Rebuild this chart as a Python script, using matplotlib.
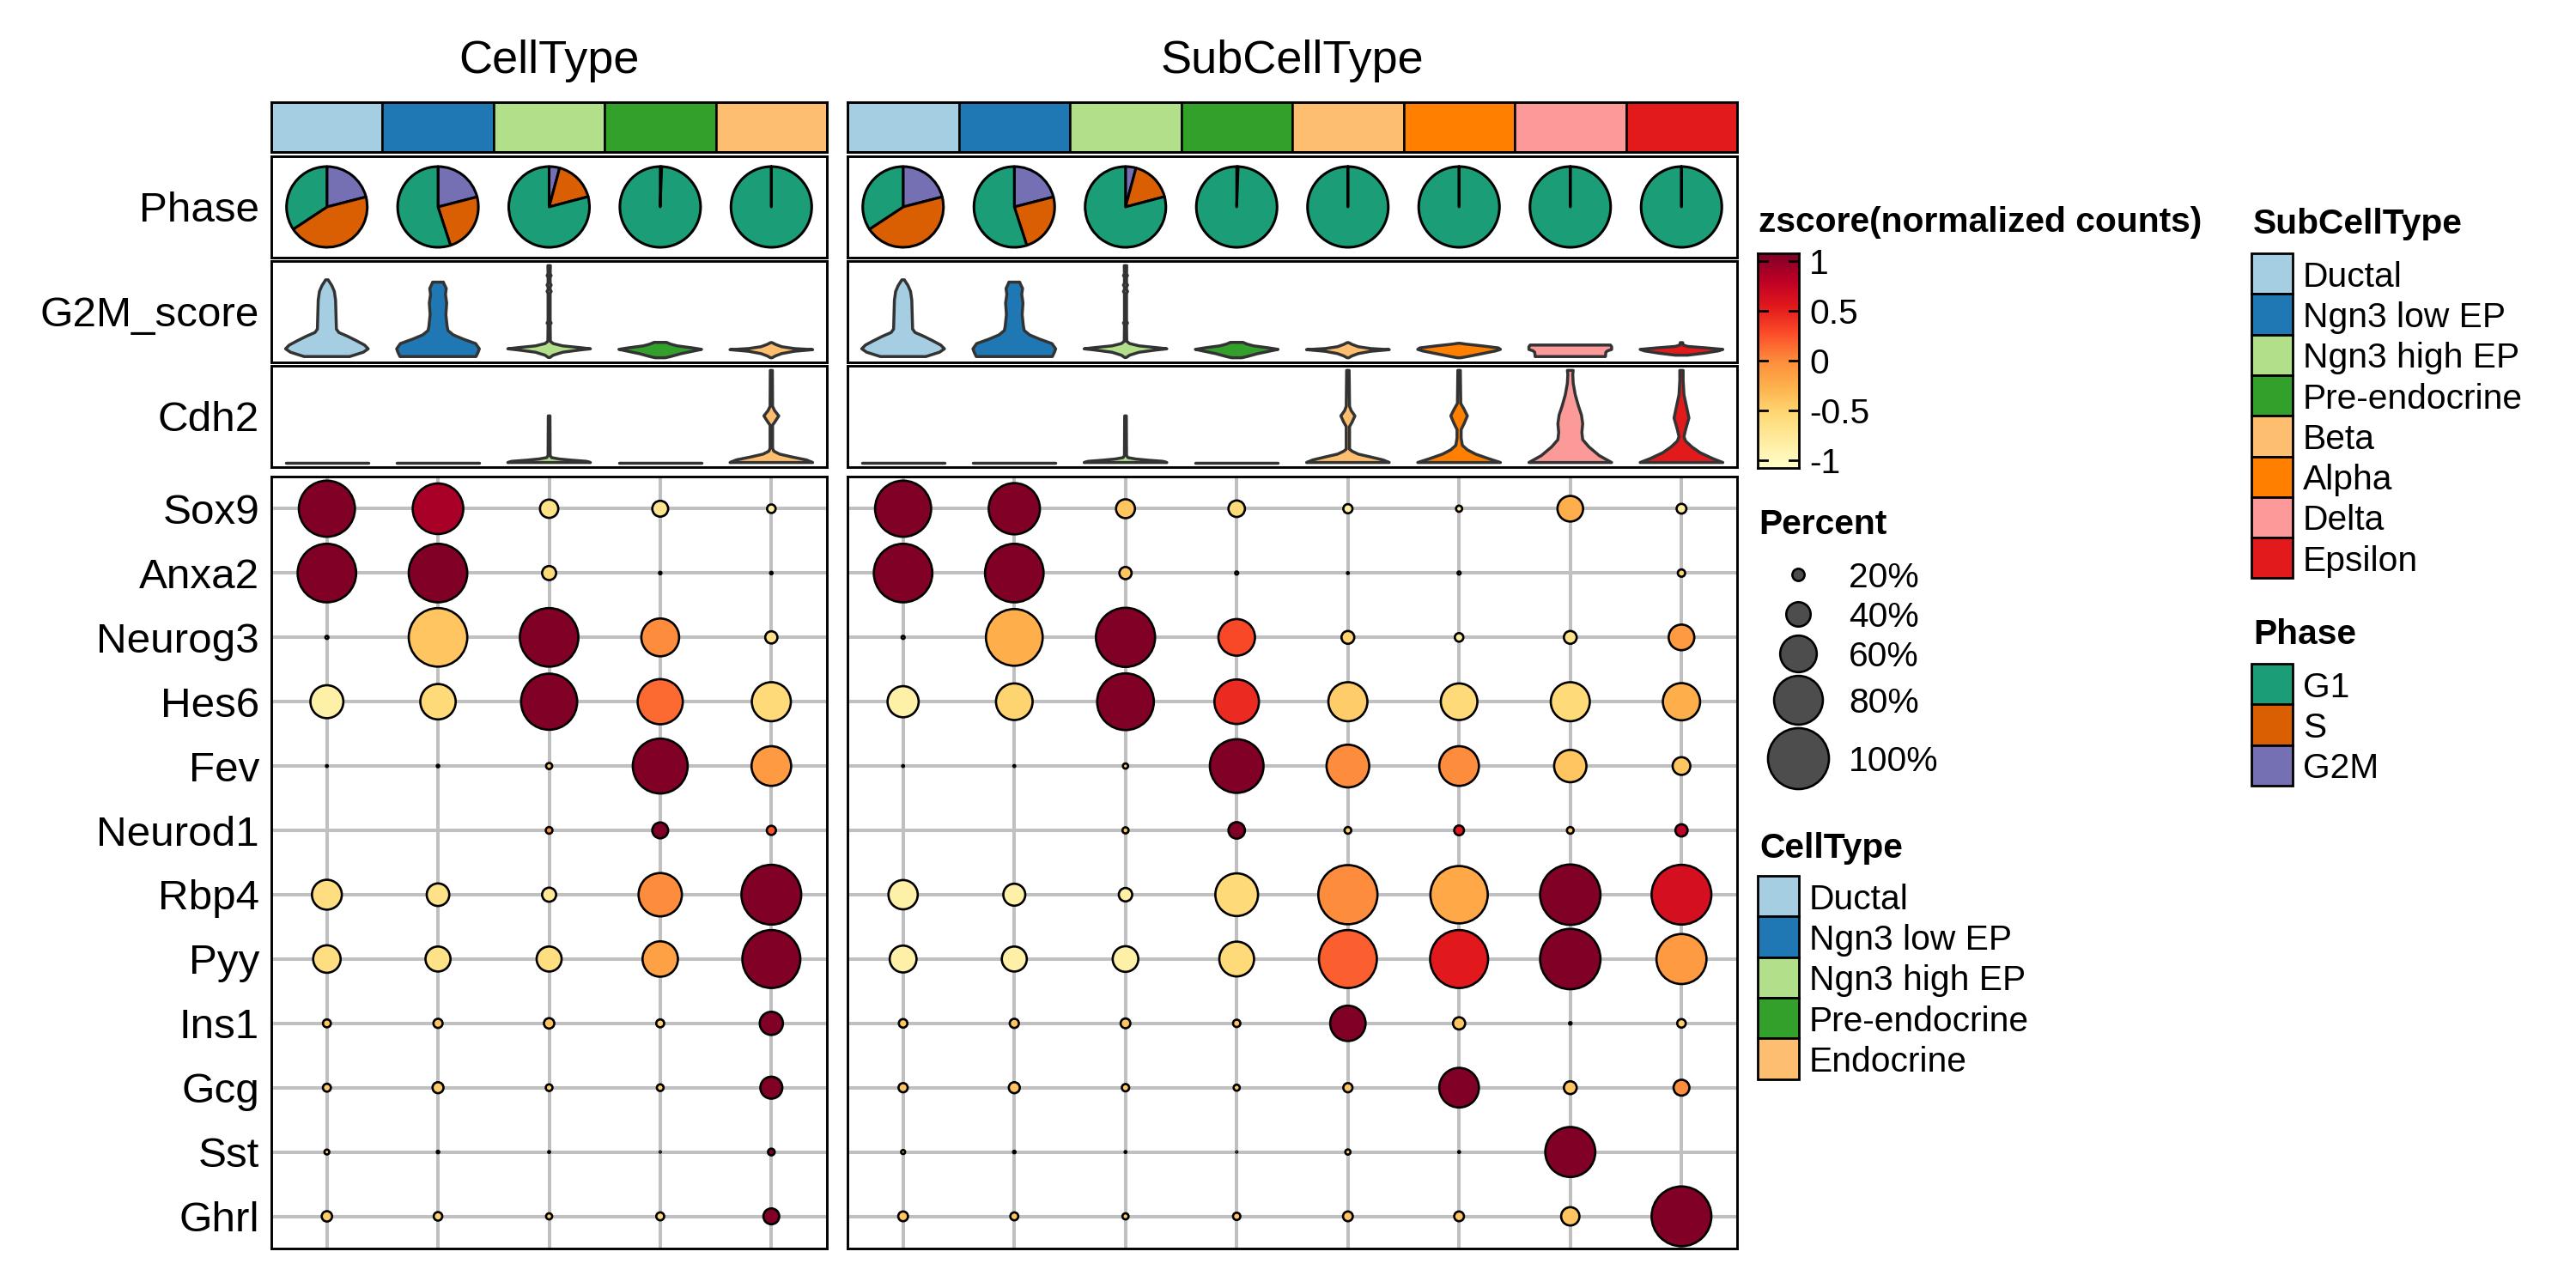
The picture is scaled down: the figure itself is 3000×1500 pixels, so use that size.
import numpy as np
import matplotlib
matplotlib.use("Agg")
import matplotlib.pyplot as plt
from matplotlib.patches import Wedge, Rectangle, Polygon
from matplotlib.colors import Normalize

plt.rcParams['font.family'] = ['Liberation Sans', 'DejaVu Sans']

# ---------------- data ----------------
celltypes = ["Ductal", "Ngn3 low EP", "Ngn3 high EP", "Pre-endocrine", "Endocrine"]
subcelltypes = ["Ductal", "Ngn3 low EP", "Ngn3 high EP", "Pre-endocrine",
                "Beta", "Alpha", "Delta", "Epsilon"]
celltype_colors = ["#A6CEE3", "#1F78B4", "#B2DF8A", "#33A02C", "#FDBF6F"]
subcelltype_colors = ["#A6CEE3", "#1F78B4", "#B2DF8A", "#33A02C",
                      "#FDBF6F", "#FF7F00", "#FB9A99", "#E31A1C"]
phases = ["G1", "S", "G2M"]
phase_colors = ["#1B9E77", "#D95F02", "#7570B3"]
genes = ["Sox9", "Anxa2", "Neurog3", "Hes6", "Fev", "Neurod1",
         "Rbp4", "Pyy", "Ins1", "Gcg", "Sst", "Ghrl"]
row_features = ["Phase", "G2M_score", "Cdh2"]

# phase fractions (G1, S, G2M)
phase_frac = {
    "Ductal":        [0.343, 0.447, 0.210],
    "Ngn3 low EP":   [0.550, 0.240, 0.210],
    "Ngn3 high EP":  [0.791, 0.167, 0.042],
    "Pre-endocrine": [0.994, 0.004, 0.002],
    "Endocrine":     [1.0, 0.0, 0.0],
    "Beta":          [1.0, 0.0, 0.0],
    "Alpha":         [1.0, 0.0, 0.0],
    "Delta":         [1.0, 0.0, 0.0],
    "Epsilon":       [1.0, 0.0, 0.0],
}

# violin outlines: height (0..1 of feature range) and relative half-width
g2m_y = {
    "Ductal": [0.013, 0.06, 0.097, 0.138, 0.186, 0.233, 0.274, 0.311, 0.469, 0.626, 0.72, 0.783, 0.846],
    "Ngn3 low EP": [0.013, 0.06, 0.097, 0.154, 0.201, 0.248, 0.296, 0.343, 0.469, 0.594, 0.689, 0.752, 0.799, 0.821],
    "Ngn3 high EP": [0.003, 0.028, 0.06, 0.085, 0.097, 0.11, 0.129, 0.154, 0.179, 0.36, 0.377, 0.39,
                     0.70, 0.72, 0.74, 0.77, 0.789, 0.81, 0.88, 0.893, 0.905, 1.0],
    "Pre-endocrine": [0.0, 0.013, 0.044, 0.075, 0.091, 0.107, 0.129, 0.148, 0.167],
    "Endocrine": [0.0, 0.02, 0.045, 0.07, 0.088, 0.1, 0.12, 0.145, 0.164],
    "Beta": [0.0, 0.02, 0.045, 0.07, 0.088, 0.1, 0.12, 0.145, 0.164],
    "Alpha": [0.0, 0.013, 0.044, 0.075, 0.091, 0.107, 0.129, 0.148, 0.157],
    "Delta": [0.013, 0.06, 0.075, 0.09, 0.12, 0.138],
    "Epsilon": [0.028, 0.05, 0.075, 0.091, 0.107, 0.123, 0.138, 0.164],
}
g2m_w = {
    "Ductal": [0.55, 0.88, 1.0, 0.91, 0.71, 0.50, 0.29, 0.23, 0.22, 0.21, 0.18, 0.12, 0.03],
    "Ngn3 low EP": [0.92, 0.97, 1.0, 0.91, 0.62, 0.37, 0.24, 0.22, 0.19, 0.21, 0.18, 0.2, 0.15, 0.13],
    "Ngn3 high EP": [0.02, 0.1, 0.33, 0.75, 1.0, 0.75, 0.33, 0.1, 0.03, 0.025, 0.05, 0.025,
                     0.025, 0.05, 0.025, 0.025, 0.05, 0.025, 0.025, 0.05, 0.025, 0.03],
    "Pre-endocrine": [0.12, 0.25, 0.5, 0.83, 1.0, 0.78, 0.41, 0.25, 0.15],
    "Endocrine": [0.02, 0.1, 0.25, 0.55, 1.0, 0.55, 0.25, 0.1, 0.02],
    "Beta": [0.02, 0.1, 0.25, 0.55, 1.0, 0.55, 0.25, 0.1, 0.02],
    "Alpha": [0.04, 0.2, 0.55, 0.89, 1.0, 0.95, 0.55, 0.16, 0.03],
    "Delta": [0.85, 0.86, 0.9, 1.0, 1.0, 0.97],
    "Epsilon": [0.15, 0.55, 0.9, 1.0, 0.6, 0.15, 0.04, 0.03],
}
cdh2_y = {
    "Ductal": [0.0, 0.0],
    "Ngn3 low EP": [0.0, 0.0],
    "Ngn3 high EP": [0.0, 0.013, 0.025, 0.038, 0.053, 0.075, 0.506],
    "Pre-endocrine": [0.0, 0.0],
    "Endocrine": [0.0, 0.028, 0.06, 0.091, 0.123, 0.154, 0.406, 0.437, 0.506, 0.563, 0.61, 1.0],
    "Beta": [0.0, 0.028, 0.06, 0.091, 0.123, 0.145, 0.39, 0.437, 0.506, 0.563, 0.61, 1.0],
    "Alpha": [0.0, 0.044, 0.091, 0.138, 0.186, 0.264, 0.358, 0.421, 0.506, 0.579, 0.642, 1.0],
    "Delta": [0.0, 0.075, 0.17, 0.248, 0.327, 0.421, 0.516, 0.61, 0.736, 0.862, 0.956, 1.0],
    "Epsilon": [0.0, 0.044, 0.107, 0.17, 0.233, 0.28, 0.358, 0.484, 0.61, 0.736, 0.893, 1.0],
}
cdh2_w = {
    "Ductal": [1.0, 1.0],
    "Ngn3 low EP": [1.0, 1.0],
    "Ngn3 high EP": [1.0, 0.9, 0.55, 0.25, 0.06, 0.025, 0.02],
    "Pre-endocrine": [1.0, 1.0],
    "Endocrine": [1.0, 0.85, 0.5, 0.2, 0.06, 0.03, 0.03, 0.08, 0.18, 0.08, 0.03, 0.025],
    "Beta": [1.0, 0.85, 0.55, 0.25, 0.1, 0.04, 0.04, 0.1, 0.17, 0.08, 0.04, 0.03],
    "Alpha": [1.0, 0.7, 0.4, 0.2, 0.08, 0.05, 0.05, 0.12, 0.2, 0.12, 0.04, 0.03],
    "Delta": [1.0, 0.7, 0.45, 0.3, 0.28, 0.3, 0.27, 0.2, 0.12, 0.07, 0.06, 0.07],
    "Epsilon": [1.0, 0.75, 0.45, 0.25, 0.1, 0.06, 0.1, 0.18, 0.12, 0.06, 0.04, 0.04],
}

# dot plot: percent of expressing cells (rows = genes)
pct_celltype = [
    [0.92, 0.83, 0.30, 0.26, 0.14],
    [0.96, 0.96, 0.23, 0.04, 0.04],
    [0.05, 0.96, 0.96, 0.62, 0.20],
    [0.54, 0.58, 0.92, 0.74, 0.64],
    [0.03, 0.04, 0.10, 0.90, 0.65],
    [0.00, 0.00, 0.11, 0.26, 0.15],
    [0.49, 0.37, 0.23, 0.71, 0.98],
    [0.45, 0.41, 0.41, 0.58, 0.95],
    [0.13, 0.15, 0.17, 0.13, 0.38],
    [0.13, 0.18, 0.11, 0.11, 0.36],
    [0.08, 0.04, 0.03, 0.02, 0.11],
    [0.17, 0.14, 0.10, 0.13, 0.26],
]
z_celltype = [
    [1.08, 0.90, -0.65, -0.70, -0.80],
    [1.08, 1.08, -0.55, -0.90, -0.90],
    [-0.90, -0.40, 1.08, 0.00, -0.65],
    [-0.85, -0.55, 1.08, 0.15, -0.55],
    [-0.90, -0.90, -0.40, 1.08, -0.10],
    [-0.90, -0.90, -0.05, 1.08, 0.25],
    [-0.60, -0.65, -0.75, 0.00, 1.08],
    [-0.60, -0.65, -0.60, -0.15, 1.08],
    [-0.40, -0.40, -0.40, -0.50, 1.08],
    [-0.45, -0.45, -0.50, -0.50, 1.08],
    [-0.50, -0.90, -0.90, -0.90, 1.08],
    [-0.45, -0.50, -0.50, -0.55, 1.08],
]
pct_subcelltype = [
    [0.92, 0.84, 0.31, 0.27, 0.15, 0.10, 0.42, 0.16],
    [0.96, 0.96, 0.20, 0.05, 0.03, 0.05, 0.00, 0.12],
    [0.05, 0.93, 0.97, 0.60, 0.21, 0.14, 0.21, 0.42],
    [0.51, 0.60, 0.93, 0.73, 0.64, 0.60, 0.64, 0.61],
    [0.03, 0.03, 0.085, 0.88, 0.70, 0.65, 0.53, 0.29],
    [0.00, 0.00, 0.10, 0.27, 0.11, 0.16, 0.11, 0.20],
    [0.48, 0.36, 0.22, 0.70, 0.97, 0.94, 0.99, 0.98],
    [0.44, 0.41, 0.42, 0.57, 0.95, 0.95, 0.99, 0.82],
    [0.14, 0.15, 0.16, 0.12, 0.58, 0.20, 0.04, 0.14],
    [0.15, 0.18, 0.12, 0.10, 0.15, 0.65, 0.21, 0.26],
    [0.066, 0.04, 0.03, 0.02, 0.085, 0.03, 0.82, 0.00],
    [0.16, 0.13, 0.10, 0.12, 0.16, 0.16, 0.30, 0.98],
]
z_subcelltype = [
    [1.08, 1.08, -0.40, -0.55, -0.80, -0.80, -0.25, -0.80],
    [1.08, 1.08, -0.40, -0.90, -0.90, -0.90, -0.90, -0.50],
    [-0.90, -0.25, 1.08, 0.30, -0.50, -0.80, -0.65, -0.10],
    [-0.85, -0.50, 1.08, 0.45, -0.45, -0.55, -0.55, -0.25],
    [-0.90, -0.90, -0.50, 1.08, 0.00, 0.00, -0.40, -0.40],
    [-0.90, -0.90, -0.40, 1.08, -0.45, 0.55, -0.40, 0.80],
    [-0.85, -0.85, -0.85, -0.55, 0.00, -0.20, 1.08, 0.65],
    [-0.85, -0.85, -0.85, -0.55, 0.20, 0.55, 1.08, -0.10],
    [-0.40, -0.40, -0.40, -0.40, 1.08, -0.40, -0.90, -0.45],
    [-0.40, -0.40, -0.45, -0.45, -0.40, 1.08, -0.40, 0.00],
    [-0.50, -0.90, -0.90, -0.90, -0.40, -0.90, 1.08, -0.90],
    [-0.40, -0.40, -0.45, -0.40, -0.40, -0.40, -0.40, 1.08],
]

cb_ticks = [1, 0.5, 0, -0.5, -1]
cb_ticklabels = ["1", "0.5", "0", "-0.5", "-1"]
pct_legend = [0.2, 0.4, 0.6, 0.8, 1.0]
pct_legend_labels = ["20%", "40%", "60%", "80%", "100%"]

# ---------------- layout ----------------
W, H = 3000, 1500
DPI = 200
PT = 72.0 / DPI
fig = plt.figure(figsize=(W / DPI, H / DPI), dpi=DPI)
fig.patch.set_facecolor("white")

cmap = plt.get_cmap("YlOrRd")
ZMIN, ZMAX = -1.08, 1.08
norm = Normalize(ZMIN, ZMAX)

FS_TITLE = 19.5
FS_AXIS = 17.8
FS_LEG = 14.7
FRAME_LW = 1.05
VIOLIN_EDGE = "#333333"
GRID_COL = "#C0C0C0"
DOT_EDGE_LW = 0.95


def add_ax(x0, y0, x1, y1, **kw):
    return fig.add_axes([x0 / W, 1 - y1 / H, (x1 - x0) / W, (y1 - y0) / H], **kw)


def frame(ax):
    for s in ax.spines.values():
        s.set_linewidth(FRAME_LW)
        s.set_color("black")
    ax.set_xticks([])
    ax.tick_params(axis="y", length=0, pad=5, labelsize=FS_AXIS)


def dot_size(p):
    return (71.0 * np.asarray(p) * PT) ** 2


columns = [
    (316, 963, "CellType", celltypes, celltype_colors, pct_celltype, z_celltype),
    (987, 2023, "SubCellType", subcelltypes, subcelltype_colors, pct_subcelltype, z_subcelltype),
]
ROW_BAR = (119, 177)
ROW_PHASE = (182, 300)
ROW_G2M = (304, 422)
ROW_CDH2 = (426, 544)
ROW_DOT = (555, 1454)

for ci, (x0, x1, title, groups, gcols, pct, zz) in enumerate(columns):
    n = len(groups)
    xs = np.arange(1, n + 1)
    first = ci == 0

    fig.text((x0 + x1) / 2 / W, 1 - 85 / H, title, ha="center", va="baseline",
             fontsize=FS_TITLE)

    # colour annotation bar
    ax = add_ax(x0, ROW_BAR[0], x1, ROW_BAR[1])
    ax.bar(xs, 1, width=1, color=gcols, edgecolor="black", linewidth=0.9)
    ax.set_xlim(0.5, n + 0.5)
    ax.set_ylim(0, 1)
    frame(ax)
    ax.set_yticks([])

    # phase pies
    ax = add_ax(x0, ROW_PHASE[0], x1, ROW_PHASE[1])
    wpx, hpx = x1 - x0, ROW_PHASE[1] - ROW_PHASE[0]
    half = hpx / wpx * n / 2
    ax.set_xlim(0.5, n + 0.5)
    ax.set_ylim(-half, half)
    r = 47.0 / (wpx / n)
    for i, g in enumerate(groups):
        fr = phase_frac[g]
        start = 90.0
        for k in [2, 1, 0]:  # G2M, S, G1 clockwise from 12 o'clock
            span = min(360.0 * fr[k], 359.999)
            wdg = Wedge((xs[i], 0), r, start - span, start, facecolor=phase_colors[k],
                        edgecolor="black", linewidth=1.1, joinstyle="round")
            ax.add_patch(wdg)
            start -= span
    frame(ax)
    if first:
        ax.set_yticks([0])
        ax.set_yticklabels([row_features[0]])
    else:
        ax.set_yticks([])

    # violins
    for row, (py, pw, fname) in zip([ROW_G2M, ROW_CDH2],
                                    [(g2m_y, g2m_w, row_features[1]),
                                     (cdh2_y, cdh2_w, row_features[2])]):
        ax = add_ax(x0, row[0], x1, row[1])
        ax.set_xlim(0.5, n + 0.5)
        ax.set_ylim(-0.05, 1.05)
        hw_max = 0.372
        for i, g in enumerate(groups):
            yv = np.asarray(py[g])
            wv = np.asarray(pw[g]) * hw_max
            verts = np.concatenate([
                np.column_stack([xs[i] + wv, yv]),
                np.column_stack([xs[i] - wv[::-1], yv[::-1]]),
            ])
            poly = Polygon(verts, closed=True, facecolor=gcols[i], edgecolor=VIOLIN_EDGE,
                           linewidth=1.25, joinstyle="round", capstyle="round")
            ax.add_patch(poly)
        frame(ax)
        if first:
            ax.set_yticks([0.5])
            ax.set_yticklabels([fname])
        else:
            ax.set_yticks([])

    # dot plot
    ax = add_ax(x0, ROW_DOT[0], x1, ROW_DOT[1])
    ng = len(genes)
    ax.set_xlim(0.5, n + 0.5)
    ax.set_ylim(ng + 0.5, 0.5)
    for xv in xs:
        ax.axvline(xv, color=GRID_COL, lw=1.45, zorder=0)
    for yv in range(1, ng + 1):
        ax.axhline(yv, color=GRID_COL, lw=1.45, zorder=0)
    P = np.asarray(pct)
    Z = np.asarray(zz)
    GX, GY = np.meshgrid(xs, np.arange(1, ng + 1))
    m = P.ravel() > 0
    ax.scatter(GX.ravel()[m], GY.ravel()[m], s=dot_size(P.ravel()[m]),
               c=Z.ravel()[m], cmap=cmap, norm=norm, edgecolors="black",
               linewidths=DOT_EDGE_LW, zorder=3)
    frame(ax)
    if first:
        ax.set_yticks(np.arange(1, ng + 1))
        ax.set_yticklabels(genes)
    else:
        ax.set_yticks([])

# ---------------- legends ----------------
lg = fig.add_axes([0, 0, 1, 1], zorder=10)
lg.set_xlim(0, W)
lg.set_ylim(H, 0)
lg.axis("off")
lg.patch.set_alpha(0)

BASE_OFF = 15  # baseline offset below a key centre (px)


def legend_title(x, y_base, text):
    lg.text(x, y_base, text, fontsize=FS_LEG, fontweight="bold", ha="left", va="baseline")


def box_legend(x, y_top, labels, colors, title, title_base):
    legend_title(x + 2, title_base, title)
    kh = 47.3
    for i, (lab, col) in enumerate(zip(labels, colors)):
        yt = y_top + i * kh
        lg.add_patch(Rectangle((x, yt), 48, kh, facecolor=col, edgecolor="black",
                               linewidth=1.0))
        lg.text(x + 60, yt + kh / 2 + BASE_OFF, lab, fontsize=FS_LEG, ha="left",
                va="baseline")


# colour bar
legend_title(2048, 270, "zscore(normalized counts)")
CB = (2047, 295, 2095, 545)
cb = add_ax(*CB, zorder=11)
grad = np.linspace(ZMIN, ZMAX, 256).reshape(-1, 1)
cb.imshow(grad, aspect="auto", cmap=cmap, norm=norm, extent=[0, 1, ZMIN, ZMAX],
          origin="lower", interpolation="bilinear")
cb.set_xlim(0, 1)
cb.set_ylim(ZMIN, ZMAX)
for v in cb_ticks:
    cb.plot([0, 0.22], [v, v], color="black", lw=1.0)
    cb.plot([0.78, 1], [v, v], color="black", lw=1.0)
cb.set_xticks([])
cb.set_yticks([])
for s in cb.spines.values():
    s.set_linewidth(1.0)
for v, lab in zip(cb_ticks, cb_ticklabels):
    ypx = CB[1] + (ZMAX - v) / (ZMAX - ZMIN) * (CB[3] - CB[1])
    lg.text(2107, ypx + BASE_OFF, lab, fontsize=FS_LEG, ha="left", va="baseline")

# percent legend
legend_title(2048, 622, "Percent")
yc = 646.0
prev = None
for p, lab in zip(pct_legend, pct_legend_labels):
    kh = max(46.0, 71.0 * p + 2 + 2)
    if prev is None:
        yc = 646.0 + kh / 2
    else:
        yc = yc + prev / 2 + kh / 2
    prev = kh
    lg.scatter([2094], [yc], s=dot_size(p), color="#4D4D4D", edgecolors="black",
               linewidths=DOT_EDGE_LW)
    lg.text(2153, yc + BASE_OFF, lab, fontsize=FS_LEG, ha="left", va="baseline")

# CellType legend
box_legend(2047, 1020, celltypes, celltype_colors, "CellType", 999)
# SubCellType legend
box_legend(2622, 295, subcelltypes, subcelltype_colors, "SubCellType", 272)
# Phase legend
box_legend(2622, 773, phases, phase_colors, "Phase", 750)

fig.savefig("out.png", dpi=DPI, facecolor="white")
